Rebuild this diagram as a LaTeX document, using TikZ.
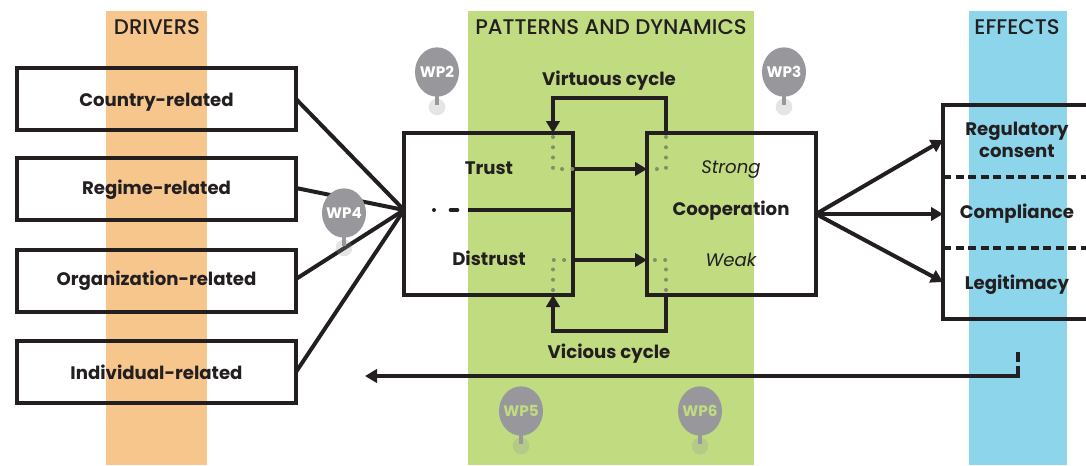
\documentclass[tikz,border=0pt]{standalone}
\usepackage{fontspec}
\setmainfont{Poppins}
\newfontfamily\titlefont{Poppins Medium}
\usetikzlibrary{arrows.meta, shapes.geometric}

\definecolor{driverband}{HTML}{F7C68D}
\definecolor{patternband}{HTML}{C0DB80}
\definecolor{effectband}{HTML}{8DD5EA}
\definecolor{ink}{HTML}{231F20}
\definecolor{pingrey}{HTML}{98989C}
\definecolor{dotgreen}{HTML}{7F8F66}

\tikzset{
	box/.style = {draw = ink, line width = 3pt, outer sep = 0pt, inner sep = 0pt},
	label/.style = {text = ink, font = \fontsize{13.6pt}{17pt}\selectfont\bfseries, align = center},
	title/.style = {text = ink, font = \fontsize{15.9pt}{19pt}\titlefont},
	link/.style = {draw = ink, line width = 3pt},
	arrow/.style = {link, -{Triangle[length = 9pt, width = 10pt]}},
	dots/.style = {draw = dotgreen, line width = 3pt, line cap = round, dash pattern = on 0pt off 7.7pt},
	pin/.style = {ellipse, fill = pingrey, minimum width = 33pt, minimum height = 37pt, inner sep = 0pt},
	pintext/.style = {font = \fontsize{11.4pt}{13pt}\selectfont\bfseries},
	stem/.style = {draw = pingrey, line width = 2.6pt},
	foot/.style = {circle, fill = pingrey, fill opacity = 0.25, minimum size = 12.5pt, inner sep = 0pt}
}

\begin{document}
\begin{tikzpicture}[x = 0.75pt, y = -0.75pt]
	\useasboundingbox (0, 0) rectangle (1086, 465);
	\clip (0, 0) rectangle (1086, 465);

	% bands
	\fill [driverband] (106, 11) rectangle (207, 465);
	\fill [patternband] (468, 11) rectangle (754, 465);
	\fill [effectband] (969, 11) rectangle (1067, 465);
	\node (drivers) [title] at (157, 27) {DRIVERS};
	\node (patterns) [title] at (611, 27) {PATTERNS AND DYNAMICS};
	\node (effects) [title] at (1017, 27) {EFFECTS};

	% left column
	\node (country) [box, minimum width = 209.25pt, minimum height = 46.5pt] at (156.5, 99) {};
	\node (regime) [box, minimum width = 209.25pt, minimum height = 46.5pt] at (156.5, 189) {};
	\node (organization) [box, minimum width = 209.25pt, minimum height = 46.5pt] at (156.5, 280.5) {};
	\node (individual) [box, minimum width = 209.25pt, minimum height = 46.5pt] at (156.5, 372) {};
	\node [label] at (156.5, 102) {Country-related};
	\node [label] at (156.5, 190) {Regime-related};
	\node [label] at (156.5, 281) {Organization-related};
	\node [label] at (156.5, 372) {Individual-related};

	% middle boxes
	\node (trust) [box, minimum width = 126.75pt, minimum height = 121.5pt] at (488.5, 214) {};
	\node (cooperation) [box, minimum width = 126.75pt, minimum height = 121.5pt] at (731.5, 214) {};
	\node [label] at (489, 168) {Trust};
	\node [label] at (489, 258) {Distrust};
	\node [label] at (731, 211) {Cooperation};
	\node [label, font = \fontsize{13.6pt}{17pt}\selectfont\itshape] at (731, 170) {Strong};
	\node [label, font = \fontsize{13.6pt}{17pt}\selectfont\itshape] at (731, 260) {Weak};
	\node [label] at (609, 81) {Virtuous cycle};
	\node [label] at (609, 354) {Vicious cycle};

	% right box, runs off the page
	\node (outcomes) [box, anchor = north west, minimum width = 120pt, minimum height = 160.5pt] at (943, 105) {};
	\node [label] at (1017, 140) {Regulatory\\consent};
	\node [label] at (1017, 214) {Compliance};
	\node [label] at (1017, 285) {Legitimacy};
	\draw [ink, line width = 2.4pt, dash pattern = on 6pt off 3.4pt] (943, 177) -- (1086, 177);
	\draw [ink, line width = 2.4pt, dash pattern = on 6pt off 3.4pt] (943, 248) -- (1086, 248);

	\coordinate (trustin) at (404, 210);
	\coordinate (trustmid) at (573, 210);
	\coordinate (trustup) at (553, 133);
	\coordinate (trustdown) at (553, 295);
	\coordinate (coopup) at (666, 133);
	\coordinate (coopdown) at (666, 295);
	\coordinate (coopout) at (816, 214);
	\coordinate (feedbackend) at (365, 376);

	\draw [link] (296, 99) -- (trustin);
	\draw [link] (296, 188) -- (trustin);
	\draw [link] (296, 279) -- (trustin);
	\draw [link] (296, 372) -- (trustin);

	\draw [arrow] (coopup) -- ++(0, -35) -| (trustup);
	\draw [arrow] (coopdown) -- ++(0, 36) -| (trustdown);
	\draw [arrow] (573, 169) -- (647, 169);
	\draw [arrow] (573, 260) -- (647, 260);
	\draw [link] (trustmid) -- (468, 210);
	\draw [link, line cap = round, dash pattern = on 0pt off 12.5pt on 5pt off 14pt] (434, 210) -- (460, 210);

	\draw [arrow] (coopout) -- (943, 140);
	\draw [arrow] (coopout) -- (943, 214);
	\draw [arrow] (coopout) -- (943, 282);

	\draw [arrow] (1018, 366) |- (feedbackend);
	\draw [link] (1018, 352) -- (1018, 362);

	% dotted corners
	\draw [dots] (553, 137) -- (553, 169) -- (573, 169);
	\draw [dots] (553, 290) -- (553, 260) -- (573, 260);
	\draw [dots] (666, 137) -- (666, 169) -- (647, 169);
	\draw [dots] (666, 290) -- (666, 260) -- (647, 260);

	% pins
	\foreach \name/\px/\py/\txt in {WP2/437/72/white, WP3/784/72/white, WP4/344/213/white, WP5/521/411/patternband, WP6/700/411/patternband}{
		\node (\name foot) [foot] at (\px, \py + 35) {};
		\draw [stem] (\px, \py) -- (\px, \py + 33);
		\node (\name) [pin] at (\px, \py) {};
		\node [pintext, text = \txt] at (\name) {\name};
	}
\end{tikzpicture}
\end{document}
